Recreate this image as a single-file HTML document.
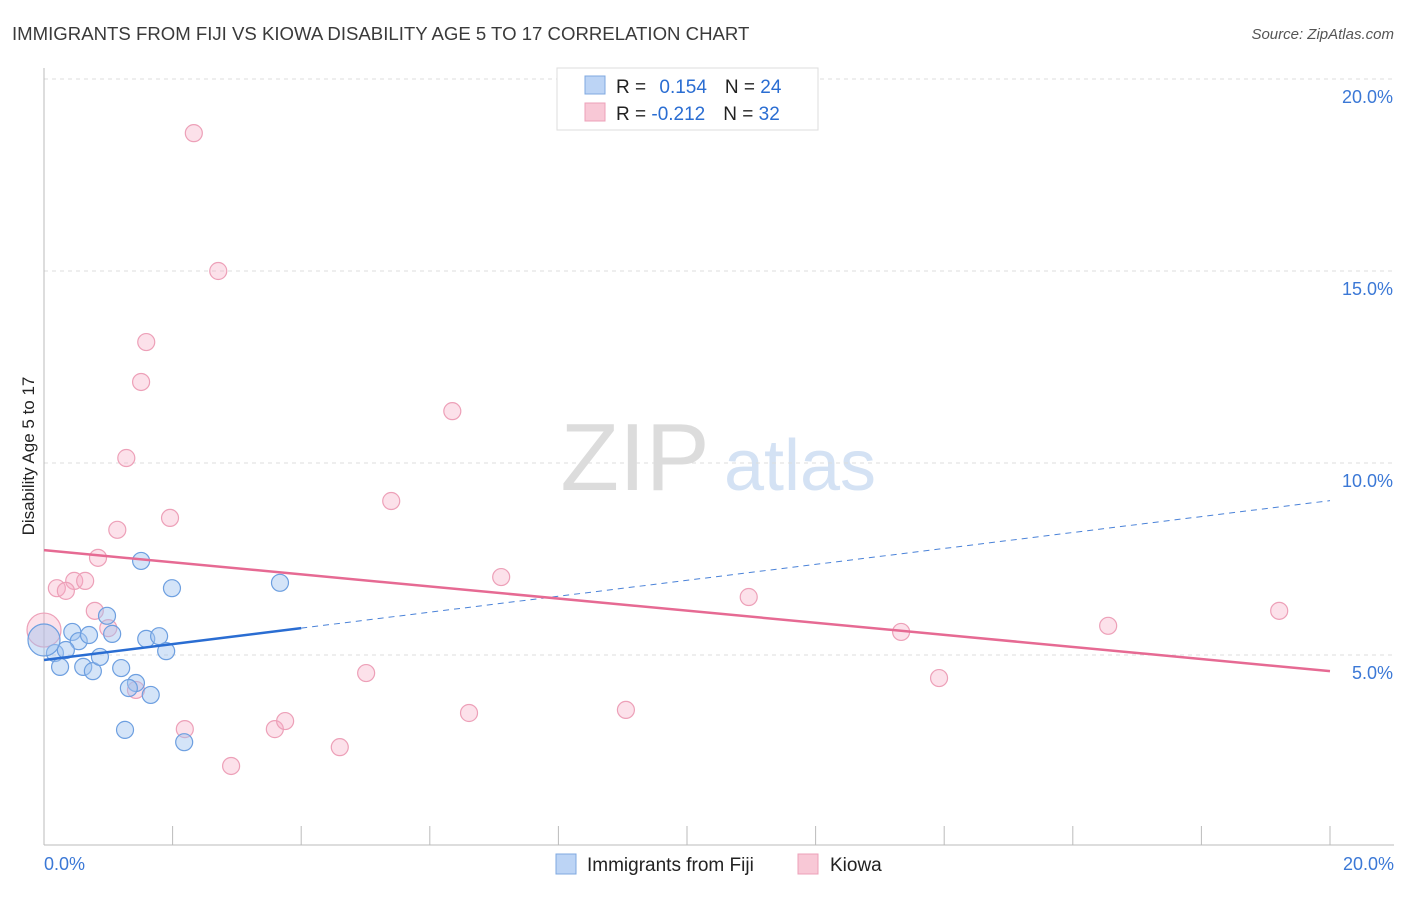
<!DOCTYPE html>
<html><head><meta charset="utf-8"><style>
body{margin:0;background:#fff;font-family:"Liberation Sans",sans-serif}
svg text{font-family:"Liberation Sans",sans-serif}
</style></head><body>
<svg id="c" width="1406" height="892">
<text x="12" y="40" font-size="18.6" fill="#3a3a3a">IMMIGRANTS FROM FIJI VS KIOWA DISABILITY AGE 5 TO 17 CORRELATION CHART</text>
<text x="1394" y="39" font-size="15" fill="#555" font-style="italic" text-anchor="end">Source: ZipAtlas.com</text>
<text x="34" y="456" font-size="17" fill="#222" transform="rotate(-90 34 456)" text-anchor="middle">Disability Age 5 to 17</text>
<g><text x="635" y="490" font-size="96" fill="#dcdcdc" font-family="Liberation Serif" text-anchor="middle">ZIP</text><text x="800" y="490" font-size="72" fill="#d4e2f4" text-anchor="middle">atlas</text></g>
<g id="grid"></g><g id="axes"></g><g id="marks"></g>
<g>
<rect x="557" y="68" width="261" height="62" fill="#fff" stroke="#ddd"/>
<rect x="585" y="76" width="20" height="18" fill="#bcd4f5" stroke="#7fa8e0"/>
<rect x="585" y="103" width="20" height="18" fill="#f8c8d6" stroke="#eda0b8"/>
<text x="616" y="93" font-size="19" fill="#222">R = <tspan fill="#2a6dd2" dx="8">0.154</tspan><tspan dx="18" fill="#222">N = </tspan><tspan fill="#2a6dd2">24</tspan></text>
<text x="616" y="120" font-size="19" fill="#222">R = <tspan fill="#2a6dd2">-0.212</tspan><tspan dx="18" fill="#222">N = </tspan><tspan fill="#2a6dd2">32</tspan></text>
</g>
<g>
<rect x="556" y="854" width="20" height="20" fill="#bcd4f5" stroke="#7fa8e0"/>
<text x="587" y="871" font-size="19" fill="#222">Immigrants from Fiji</text>
<rect x="798" y="854" width="20" height="20" fill="#f8c8d6" stroke="#eda0b8"/>
<text x="830" y="871" font-size="19" fill="#222">Kiowa</text>
</g>
</svg>
<script>
const fijiX=[1.51,1.99,3.67,0.98,1.06,0.44,0.54,0.70,0.17,0.34,0.25,0.61,0.76,0.87,1.20,1.43,1.32,1.66,1.59,1.79,1.90,1.26,2.18,0.0];
const fijiY=[7.45,6.74,6.88,6.02,5.55,5.60,5.36,5.52,5.05,5.13,4.69,4.69,4.58,4.95,4.66,4.27,4.14,3.96,5.42,5.49,5.10,3.05,2.73,5.39];
const kiowaX=[2.33,2.71,1.59,1.51,6.35,1.28,5.40,1.96,1.14,0.84,7.11,0.47,0.64,0.20,0.34,10.96,0.79,19.21,1.00,16.55,13.33,0,5.01,13.92,6.61,9.05,2.19,3.59,3.75,4.60,2.91,1.43];
const kiowaY=[18.59,15.0,13.15,12.11,11.35,10.13,9.01,8.57,8.26,7.53,7.03,6.93,6.93,6.74,6.67,6.51,6.15,6.15,5.70,5.76,5.60,5.65,4.53,4.40,3.49,3.57,3.07,3.07,3.28,2.60,2.11,4.09];
const fijiTrend=[4.87,9.02];
const kiowaTrend=[7.73,4.58];
const yTicks=[5,10,15,20];
const yTickLabels=["5.0%","10.0%","15.0%","20.0%"];
const NS="http://www.w3.org/2000/svg";
const sx=v=>44+v/20*1286, sy=v=>847-v/5*192;
function mk(p,t,a){const e=document.createElementNS(NS,t);for(const k in a)e.setAttribute(k,a[k]);document.getElementById(p).appendChild(e);return e;}
yTicks.forEach((t,i)=>{
 const g=mk('grid','line',{x1:44,x2:1394,y1:sy(t),y2:sy(t),stroke:'#ddd','stroke-dasharray':'4,4'});
 
 
 const l=mk('grid','text',{x:1393,y:sy(t)+24,'font-size':18,fill:'#3b78d6','text-anchor':'end'});
 l.textContent=yTickLabels[i];
 
 
});
const ax=mk('axes','line',{x1:44,x2:44,y1:68,y2:845,stroke:'#bbb'});


const bx=mk('axes','line',{x1:44,x2:1394,y1:845,y2:845,stroke:'#bbb'});


for(let i=0;i<=10;i++){const t=mk('axes','line',{x1:sx(i*2),x2:sx(i*2),y1:826,y2:845,stroke:'#bbb'});
 
 }
const x0=mk('axes','text',{x:44,y:870,'font-size':18,fill:'#3b78d6'});x0.textContent='0.0%';


const x1=mk('axes','text',{x:1394,y:870,'font-size':18,fill:'#3b78d6','text-anchor':'end'});x1.textContent='20.0%';


kiowaX.forEach((x,i)=>{const c=mk('marks','circle',{cx:sx(x),cy:sy(kiowaY[i]),r:x===0?17:8.5,fill:'rgba(246,170,195,0.35)',stroke:'#eda0b8','stroke-width':1.2});
 
 });
fijiX.forEach((x,i)=>{const c=mk('marks','circle',{cx:sx(x),cy:sy(fijiY[i]),r:x===0?16:8.5,fill:'rgba(160,195,240,0.45)',stroke:'#6d9fe0','stroke-width':1.2});
 
 });
const fy=x=>fijiTrend[0]+(fijiTrend[1]-fijiTrend[0])*x/20;
const f1=mk('marks','line',{x1:sx(0),y1:sy(fy(0)),x2:sx(4),y2:sy(fy(4)),stroke:'#2a6dd2','stroke-width':2.5});


const f2=mk('marks','line',{x1:sx(4),y1:sy(fy(4)),x2:sx(20),y2:sy(fy(20)),stroke:'#4a82d8','stroke-width':1,'stroke-dasharray':'6,5'});


const k1=mk('marks','line',{x1:sx(0),y1:sy(kiowaTrend[0]),x2:sx(20),y2:sy(kiowaTrend[1]),stroke:'#e66a93','stroke-width':2.5});


</script>
</body></html>
